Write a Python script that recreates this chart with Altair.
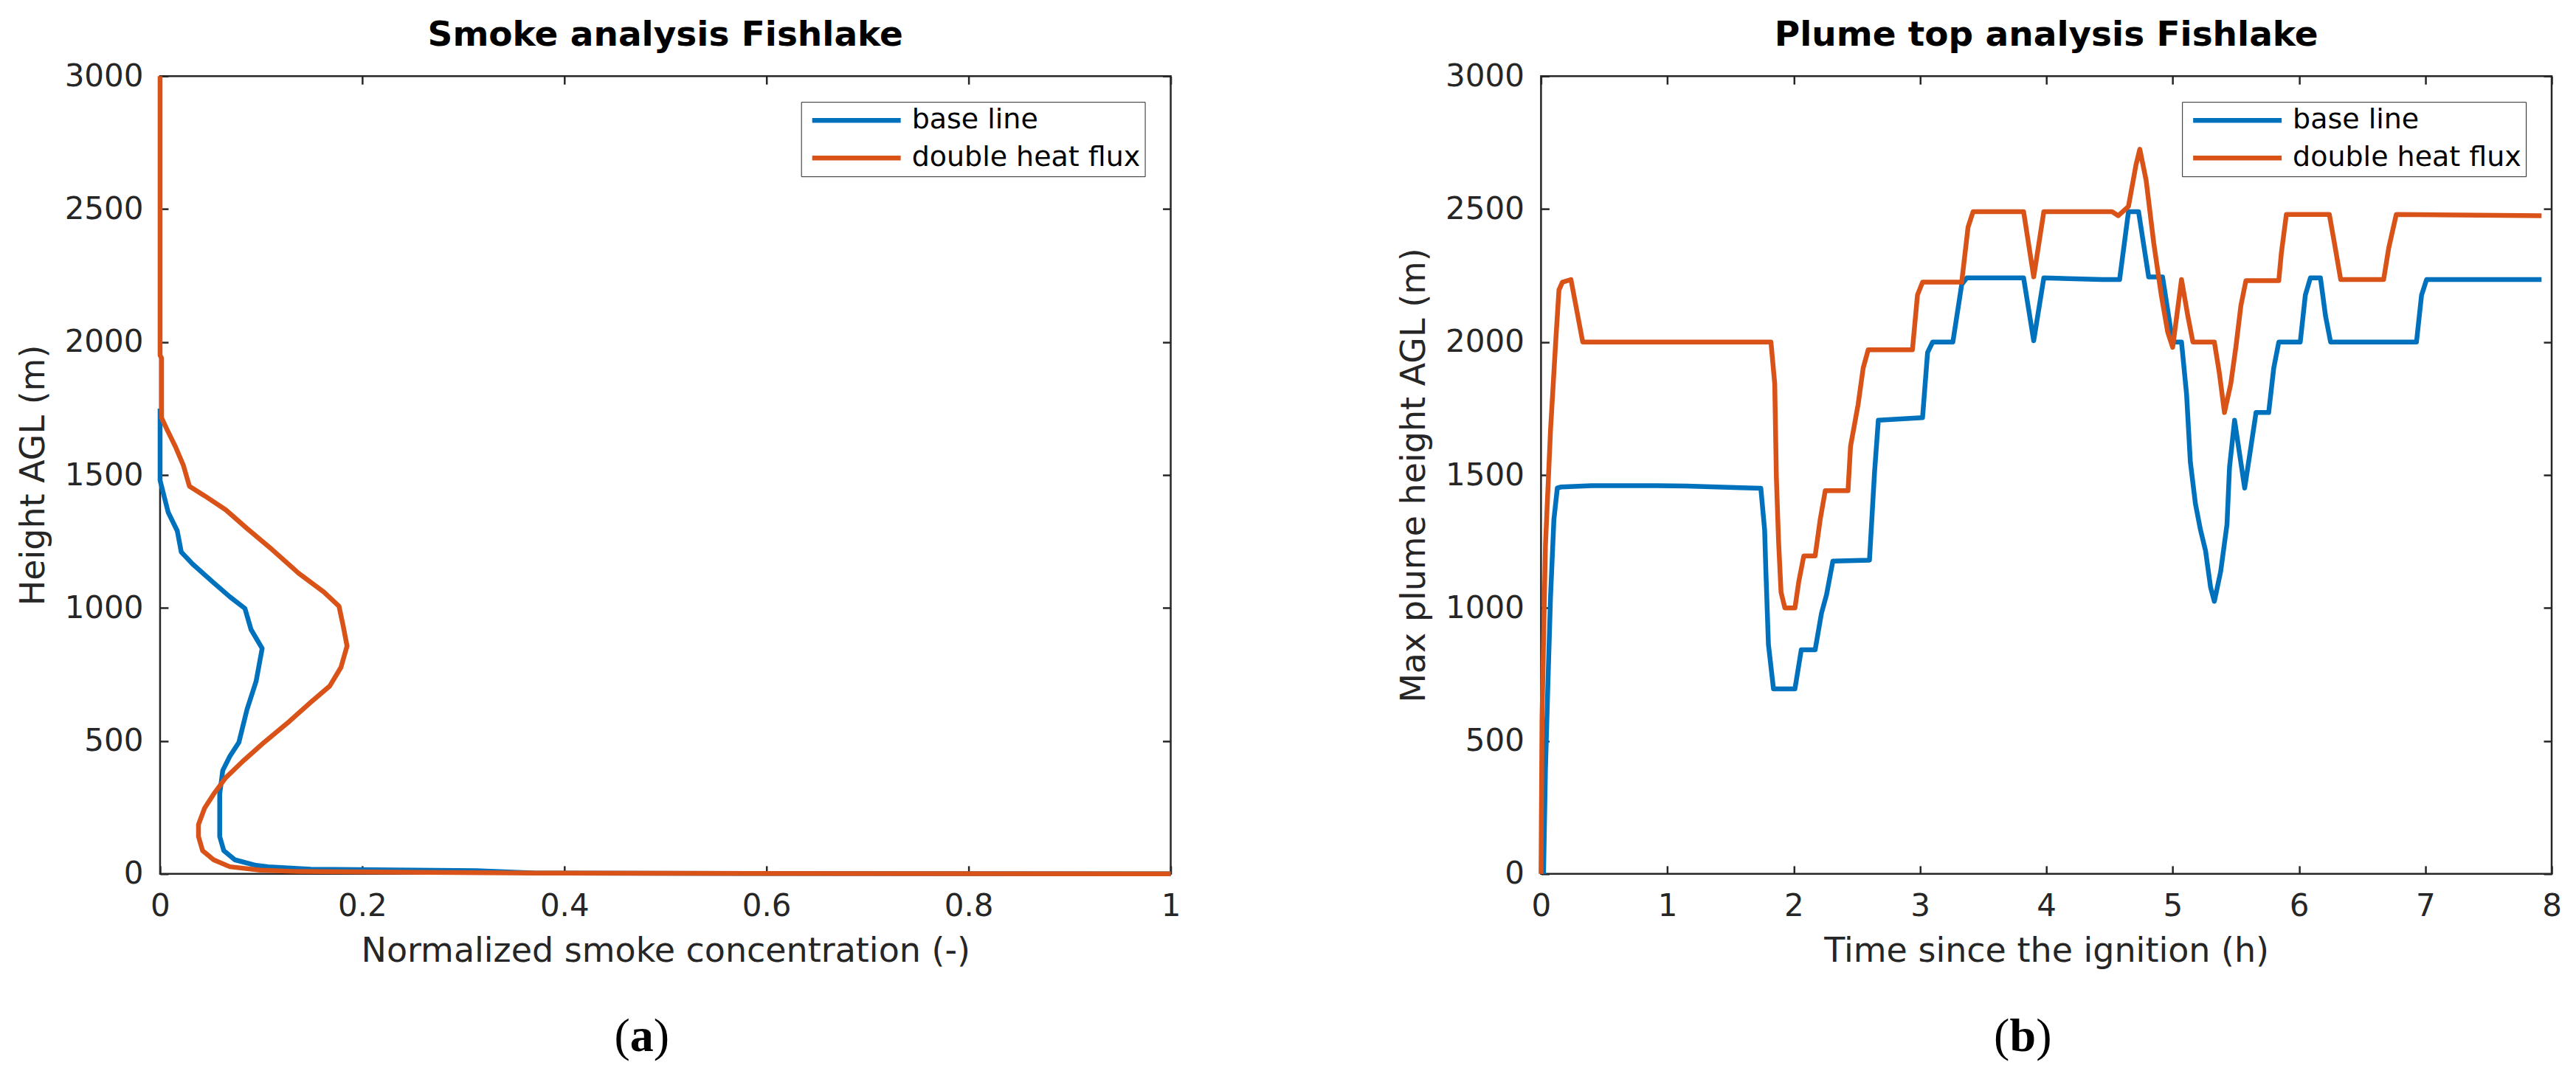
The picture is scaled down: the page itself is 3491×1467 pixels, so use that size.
import altair as alt
import pandas as pd

SERIES = ["base line", "double heat flux"]
COLORS = ["#0072BD", "#D95319"]

# ---- Panel (a): normalized smoke concentration profile ----
smoke_base_conc = [0.0, 0.0, 0.008, 0.017, 0.021, 0.032, 0.053, 0.069, 0.084, 0.090, 0.101,
                   0.095, 0.086, 0.078, 0.069, 0.062, 0.059, 0.059, 0.063, 0.074, 0.095,
                   0.107, 0.149, 0.313, 0.372, 1.0]
smoke_base_height = [1750, 1480, 1360, 1290, 1210, 1166, 1095, 1042, 998, 919, 848,
                     724, 618, 495, 442, 389, 300, 141, 88, 53, 32,
                     27, 18, 12, 3, 0]
smoke_heat_conc = [0.0, 0.0, 0.0015, 0.0015, 0.006, 0.015, 0.023, 0.029, 0.044, 0.065, 0.086,
                   0.111, 0.137, 0.162, 0.177, 0.181, 0.185, 0.179, 0.168, 0.149, 0.128,
                   0.103, 0.082, 0.065, 0.053, 0.044, 0.038, 0.038, 0.042, 0.053, 0.069,
                   0.099, 0.137, 0.372, 1.0]
smoke_heat_height = [3000, 1950, 1940, 1715, 1678, 1608, 1537, 1458, 1422, 1369, 1299,
                     1219, 1131, 1060, 1007, 936, 857, 777, 707, 645, 574,
                     495, 424, 362, 300, 247, 186, 141, 88, 53, 27,
                     14, 9, 3, 0]

# ---- Panel (b): max plume height over time ----
plume_base_time = [0.02, 0.035, 0.054, 0.075, 0.102, 0.129, 0.16, 0.4, 0.92, 1.2, 1.58, 1.74,
                   1.77, 1.78, 1.80, 1.84, 2.01, 2.04, 2.06, 2.17, 2.22, 2.26, 2.31, 2.60,
                   2.64, 2.67, 3.02, 3.06, 3.10, 3.26, 3.33, 3.37, 3.82, 3.90, 3.98, 4.44,
                   4.58, 4.65, 4.73, 4.81, 4.92, 5.0, 5.07, 5.11, 5.14, 5.18, 5.22, 5.26,
                   5.30, 5.33, 5.38, 5.43, 5.45, 5.49, 5.57, 5.62, 5.66, 5.76, 5.80, 5.84,
                   6.01, 6.05, 6.09, 6.17, 6.21, 6.25, 6.93, 6.97, 7.01, 7.92]
plume_base_height = [0, 392, 706, 1039, 1333, 1451, 1455, 1460, 1460, 1458, 1452, 1450,
                     1294, 1137, 863, 696, 696, 784, 843, 843, 980, 1050, 1176, 1180,
                     1510, 1706, 1716, 1961, 2000, 2000, 2216, 2241, 2241, 2005, 2241, 2235,
                     2235, 2490, 2490, 2245, 2245, 2000, 2000, 1804, 1549, 1392, 1294, 1216,
                     1078, 1025, 1137, 1314, 1529, 1706, 1451, 1608, 1735, 1735, 1902, 2000,
                     2000, 2176, 2241, 2241, 2098, 2000, 2000, 2176, 2235, 2235]
plume_heat_time = [0.0, 0.008, 0.035, 0.075, 0.116, 0.142, 0.169, 0.237, 0.33, 1.82, 1.85,
                   1.863, 1.88, 1.90, 1.93, 2.01, 2.04, 2.08, 2.17, 2.21, 2.25, 2.43, 2.45,
                   2.51, 2.55, 2.59, 2.94, 2.98, 3.02, 3.33, 3.38, 3.42, 3.82, 3.90, 3.98,
                   4.52, 4.57, 4.65, 4.71, 4.74, 4.79, 4.85, 4.91, 4.96, 5.0, 5.07, 5.12,
                   5.16, 5.33, 5.37, 5.41, 5.46, 5.50, 5.54, 5.58, 5.84, 5.86, 5.90, 6.24,
                   6.28, 6.33, 6.67, 6.71, 6.77, 7.92]
plume_heat_height = [0, 588, 1235, 1667, 2000, 2196, 2225, 2235, 2000, 2000, 1843,
                     1490, 1255, 1059, 1000, 1000, 1098, 1196, 1196, 1333, 1441, 1441, 1608,
                     1765, 1902, 1971, 1971, 2177, 2225, 2225, 2431, 2490, 2490, 2245, 2490,
                     2490, 2475, 2510, 2667, 2725, 2608, 2373, 2176, 2039, 1980, 2235, 2098,
                     2000, 2000, 1882, 1735, 1843, 1980, 2137, 2231, 2231, 2333, 2480, 2480,
                     2373, 2235, 2235, 2353, 2480, 2475]

left_x_ticks = [0, 0.2, 0.4, 0.6, 0.8, 1]
right_x_ticks = [0, 1, 2, 3, 4, 5, 6, 7, 8]
y_ticks = [0, 500, 1000, 1500, 2000, 2500, 3000]
captions = ["a", "b"]

AX = "#262626"
FONT = "DejaVu Sans"
W, H = 1370, 1082
TICK = 11
LW = 6.5


def build_df(xb, hb, xh, hh):
    rows = []
    for i, (x, h) in enumerate(zip(xb, hb)):
        rows.append({"x": x, "h": h, "series": SERIES[0], "i": i})
    for i, (x, h) in enumerate(zip(xh, hh)):
        rows.append({"x": x, "h": h, "series": SERIES[1], "i": i})
    return pd.DataFrame(rows)


def panel(df, xdom, xvals, xtitle, ytitle, title, letter, half):
    xs = alt.Scale(domain=xdom, nice=False, zero=False)
    ys = alt.Scale(domain=[0, 3000], nice=False, zero=False)
    color = alt.Color(
        "series:N",
        scale=alt.Scale(domain=SERIES, range=COLORS),
        legend=alt.Legend(
            title=None, orient="top-right", offset=35, padding=6,
            strokeColor=AX, fillColor="white",
            labelFont=FONT, labelFontSize=38, labelColor="black", labelLimit=1000,
            symbolType="M-1,0L11,0", symbolSize=400, symbolStrokeWidth=LW,
            labelOffset=106, rowPadding=13,
        ),
    )
    main_x = alt.Axis(orient="bottom", values=xvals, format="~g", ticks=False, domain=False,
                      grid=False, labelFont=FONT, labelFontSize=42, labelColor=AX,
                      labelPadding=24, labelFlush=False, labelOverlap=False,
                      title=xtitle, titleFont=FONT, titleFontSize=46, titleFontWeight="normal",
                      titleColor=AX, titlePadding=18)
    main_y = alt.Axis(orient="left", values=y_ticks, format="d", ticks=False, domain=False,
                      grid=False, labelFont=FONT, labelFontSize=42, labelColor=AX,
                      labelPadding=23, labelFlush=False, labelOverlap=False,
                      title=ytitle, titleFont=FONT, titleFontSize=46, titleFontWeight="normal",
                      titleColor=AX, titlePadding=18)

    def tick_axis(orient, vals):
        return alt.Axis(orient=orient, values=vals, offset=-TICK, tickSize=TICK, tickWidth=2.5,
                        tickColor=AX, labels=False, domain=False, grid=False, title=None,
                        minExtent=0, maxExtent=0)

    base = alt.Chart(df)
    blue = base.transform_filter(alt.datum.series == SERIES[0]).mark_line(
        strokeWidth=LW, strokeJoin="round").encode(
        x=alt.X("x:Q", scale=xs, axis=main_x),
        y=alt.Y("h:Q", scale=ys, axis=main_y),
        color=color,
        order=alt.Order("i:Q"),
    )
    orange = base.transform_filter(alt.datum.series == SERIES[1]).mark_line(
        strokeWidth=LW, strokeJoin="round").encode(
        x=alt.X("x:Q", scale=xs, axis=None),
        y=alt.Y("h:Q", scale=ys, axis=None),
        color=color,
        order=alt.Order("i:Q"),
    )
    ticks_bl = base.mark_point(opacity=0).encode(
        x=alt.X("x:Q", scale=xs, axis=tick_axis("bottom", xvals)),
        y=alt.Y("h:Q", scale=ys, axis=tick_axis("left", y_ticks)),
    )
    ticks_tr = base.mark_point(opacity=0).encode(
        x=alt.X("x:Q", scale=xs, axis=tick_axis("top", xvals)),
        y=alt.Y("h:Q", scale=ys, axis=tick_axis("right", y_ticks)),
    )
    cap_df = pd.DataFrame({"letter": [letter], "lp": ["("], "rp": [")"]})
    cx, cy = 653, H + 221
    cap_l = alt.Chart(cap_df).mark_text(font="Liberation Serif", fontSize=64, align="right",
                                        baseline="middle", color="black").encode(
        x=alt.value(cx - half), y=alt.value(cy), text="lp:N")
    cap_m = alt.Chart(cap_df).mark_text(font="Liberation Serif", fontSize=64, fontWeight="bold",
                                        align="center", baseline="middle", color="black").encode(
        x=alt.value(cx), y=alt.value(cy), text="letter:N")
    cap_r = alt.Chart(cap_df).mark_text(font="Liberation Serif", fontSize=64, align="left",
                                        baseline="middle", color="black").encode(
        x=alt.value(cx + half), y=alt.value(cy), text="rp:N")

    return alt.layer(blue, orange, ticks_bl, ticks_tr, cap_l, cap_m, cap_r).properties(
        width=W, height=H,
        title=alt.TitleParams(title, font=FONT, fontSize=47, fontWeight="bold",
                              color="black", offset=10, anchor="middle"),
    ).resolve_axis(x="independent", y="independent")


df_a = build_df(smoke_base_conc, smoke_base_height, smoke_heat_conc, smoke_heat_height)
df_b = build_df(plume_base_time, plume_base_height, plume_heat_time, plume_heat_height)

left = panel(df_a, [0, 1], left_x_ticks, "Normalized smoke concentration (-)",
             "Height AGL (m)", "Smoke analysis Fishlake", captions[0], 16)
right = panel(df_b, [0, 8], right_x_ticks, "Time since the ignition (h)",
              "Max plume height AGL (m)", "Plume top analysis Fishlake", captions[1], 18)

chart = alt.hconcat(left, right, spacing=290).resolve_scale(
    color="independent").resolve_legend(color="independent").properties(
    padding={"left": 12, "top": 14, "right": 10, "bottom": 10},
    background="white",
).configure_view(stroke=AX, strokeWidth=2.5)

chart.save("out.html", embed_options={"renderer": "svg", "actions": False})
